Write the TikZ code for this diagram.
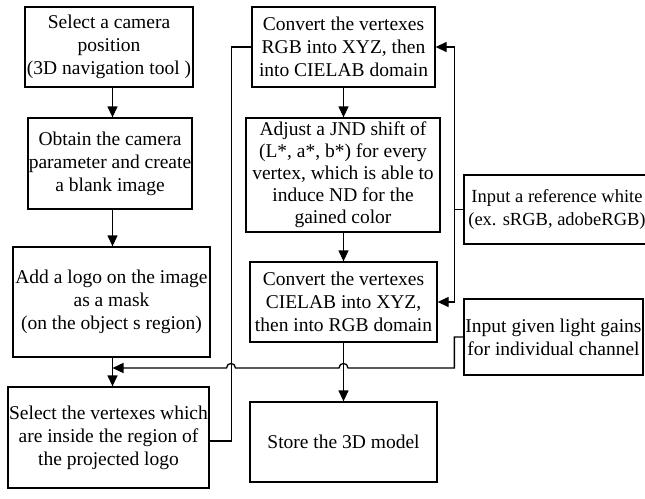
\documentclass[tikz,border=0pt]{standalone}
\usepackage{fontspec}
\setmainfont{Liberation Serif}
\usetikzlibrary{arrows.meta}
\begin{document}
\begin{tikzpicture}[x=1pt,y=-1pt,
 box/.style={draw,line width=1.3pt,align=center,inner sep=0pt,font=\fontsize{19.5}{23}\selectfont},
 ln/.style={line width=1.3pt},
 arr/.style={ln,-{Triangle[length=11pt,width=10pt]}}]
\useasboundingbox (0,0) rectangle (645,498);
\clip (0,0) rectangle (645,498);
% left column
\node[box,minimum width=168pt,minimum height=80pt] (b1) at (109,47) {Select a camera\\position\\(3D navigation tool )};
\node[box,minimum width=164pt,minimum height=91pt] (b2) at (110,163.5) {Obtain the camera\\parameter and create\\a blank image};
\node[box,minimum width=197pt,minimum height=110pt] (b3) at (111.5,302) {Add a logo on the image\\as a mask\\(on the object s region)};
\node[box,minimum width=201pt,minimum height=101pt] (b4) at (108.5,437.5) {Select the vertexes which\\are inside the region of\\the projected logo};
% center column
\node[box,minimum width=183pt,minimum height=80pt] (c1) at (343.5,47) {Convert the vertexes\\RGB into XYZ, then\\into CIELAB domain};
\node[box,minimum width=194pt,minimum height=114pt,font=\fontsize{19.5}{22}\selectfont] (c2) at (343,175) {Adjust a JND shift of\\(L*, a*, b*) for every\\vertex, which is able to\\induce ND for the\\gained color};
\node[box,minimum width=187pt,minimum height=80pt] (c3) at (343.5,302) {Convert the vertexes\\CIELAB into XYZ,\\then into RGB domain};
\node[box,minimum width=187pt,minimum height=80pt] (c4) at (343.5,442) {Store the 3D model};
% right column
\node[box,minimum width=186pt,minimum height=69pt,font=\fontsize{18.5}{23}\selectfont] (r1) at (557,209.5) {Input a reference white\\(ex. sRGB, adobeRGB)};
\node[box,minimum width=179pt,minimum height=76pt] (r2) at (553.5,337) {Input given light gains\\for individual channel};
% coordinates
\coordinate (ax) at (112.5,0);
\coordinate (cx) at (343.5,0);
\coordinate (fb) at (112.5,368);
% left arrows
\draw[arr] (b1.south -| ax) -- (b2.north -| ax);
\draw[arr] (b2.south -| ax) -- (b3.north -| ax);
\draw[arr] (b3.south -| ax) -- (b4.north -| ax);
% center arrows
\draw[arr] (c1.south -| cx) -- (c2.north -| cx);
\draw[arr] (c2.south -| cx) -- (c3.north -| cx);
\draw[arr] (c3.south -| cx) -- (c4.north -| cx);
% reference white
\draw[arr] (r1.west) -- ++(-9,0) |- (c1.east);
\draw[arr] (r1.west) -- ++(-9,0) |- (c3.east);
% light gains feedback with jumps
\draw[arr] (r2.west) -- ++(-9,0) |- (348,368)
  .. controls (348,362) and (339,362) .. (339,368)
  -- (235.5,368)
  .. controls (235.5,362) and (226.5,362) .. (226.5,368)
  -- (fb);
% selected vertexes to conversion
\draw[ln] ([yshift=-3.5pt]b4.east) -- ++(22,0) |- (c1.west);
\end{tikzpicture}
\end{document}
